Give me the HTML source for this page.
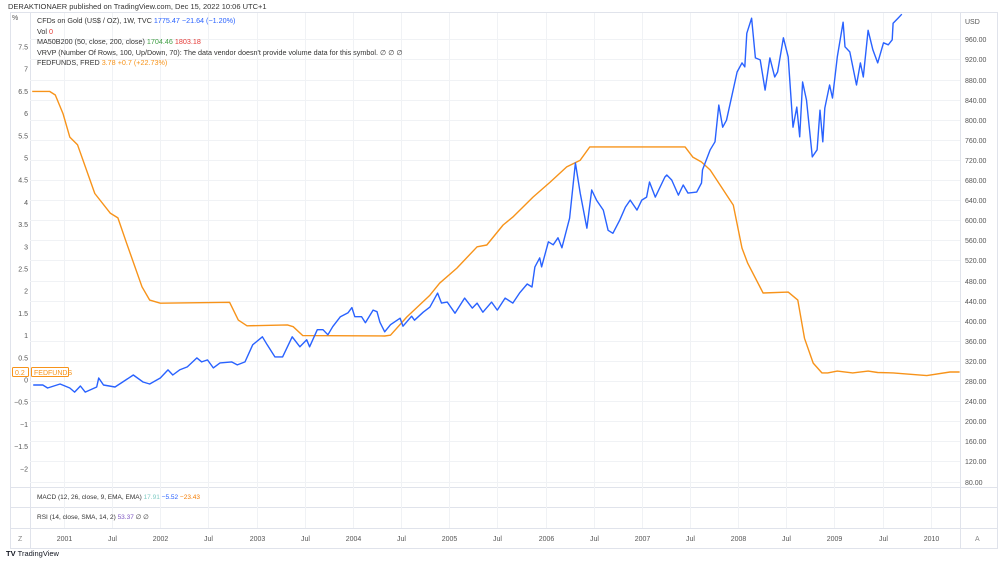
<!DOCTYPE html>
<html><head><meta charset="utf-8"><style>
body{margin:0;background:#fff;font-family:"Liberation Sans",sans-serif;}
svg text{font-family:"Liberation Sans",sans-serif;}
</style></head><body>
<svg id="c" width="1000" height="560" xmlns="http://www.w3.org/2000/svg">
<rect width="1000" height="560" fill="#fff"/>
<text x="8" y="9" font-size="7.5" fill="#333">DERAKTIONAER published on TradingView.com, Dec 15, 2022 10:06 UTC+1</text>
<rect x="10.5" y="12.5" width="987" height="536" fill="none" stroke="#e0e3eb"/>
<line x1="960.5" y1="12" x2="960.5" y2="548" stroke="#e0e3eb"/>
<line x1="10" y1="487.5" x2="998" y2="487.5" stroke="#e0e3eb"/>
<line x1="10" y1="507.5" x2="998" y2="507.5" stroke="#e0e3eb"/>
<line x1="10" y1="528.5" x2="998" y2="528.5" stroke="#e0e3eb"/>
<line x1="30.5" y1="12" x2="30.5" y2="548" stroke="#e0e3eb"/>
<g id="grid"></g>
<g id="axes" font-size="7" fill="#555"></g>
<defs><clipPath id="pc"><rect x="30" y="13" width="930" height="474"/></clipPath></defs>
<g clip-path="url(#pc)" id="series"></g>
<g font-size="7.2">
<text x="37" y="23" fill="#333">CFDs on Gold (US$ / OZ), 1W, TVC <tspan fill="#2962ff">1775.47</tspan> <tspan fill="#2962ff">−21.64 (−1.20%)</tspan></text>
<text x="37" y="34" fill="#333">Vol <tspan fill="#e53935">0</tspan></text>
<text x="37" y="44" fill="#333">MA50B200 (50, close, 200, close) <tspan fill="#43a047">1704.46</tspan> <tspan fill="#e53935">1803.18</tspan></text>
<text x="37" y="55" fill="#333">VRVP (Number Of Rows, 100, Up/Down, 70): The data vendor doesn't provide volume data for this symbol.  ∅  ∅  ∅</text>
<text x="37" y="65" fill="#333">FEDFUNDS, FRED <tspan fill="#f7931a">3.78</tspan> <tspan fill="#f7931a">+0.7 (+22.73%)</tspan></text>
</g>
<text x="37" y="499" font-size="6.5" fill="#333">MACD (12, 26, close, 9, EMA, EMA) <tspan fill="#80cbc4">17.91</tspan> <tspan fill="#2962ff">−5.52</tspan> <tspan fill="#f57c00">−23.43</tspan></text>
<text x="37" y="519" font-size="6.5" fill="#333">RSI (14, close, SMA, 14, 2) <tspan fill="#7e57c2">53.37</tspan>  ∅  ∅</text>
<text x="18" y="541" font-size="7" fill="#888">Z</text>
<text x="975" y="541" font-size="7" fill="#888">A</text>
<text x="12" y="20" font-size="7" fill="#555">%</text>
<text x="965" y="24" font-size="7" fill="#555">USD</text>
<g>
<rect x="12.5" y="367.5" width="16" height="9" fill="#fff" stroke="#f7931a" rx="1"/>
<text x="15" y="375" font-size="7" fill="#f7931a">0.2</text>
<rect x="31.5" y="367.5" width="37" height="9" fill="#fff" stroke="#f7931a" rx="1"/>
<text x="34" y="375" font-size="7" fill="#f7931a">FEDFUNDS</text>
</g>
<text x="6" y="556" font-size="7.5" fill="#131722" font-weight="bold">TV <tspan font-weight="normal">TradingView</tspan></text>
</svg>
<script>
const leftTicks=[7.5,7,6.5,6,5.5,5,4.5,4,3.5,3,2.5,2,1.5,1,0.5,0,-0.5,-1,-1.5,-2];
const rightTicks=[960,920,880,840,800,760,720,680,640,600,560,520,480,440,400,360,320,280,240,200,160,120,80];
const xTickLabels=["2001","Jul","2002","Jul","2003","Jul","2004","Jul","2005","Jul","2006","Jul","2007","Jul","2008","Jul","2009","Jul","2010"];
const xTickDates=[2001,2001.5,2002,2002.5,2003,2003.5,2004,2004.5,2005,2005.5,2006,2006.5,2007,2007.5,2008,2008.5,2009,2009.5,2010];
const fedDates=[2000.67,2000.85,2000.91,2000.99,2001.06,2001.14,2001.32,2001.48,2001.56,2001.65,2001.81,2001.89,2002.0,2002.41,2002.72,2002.81,2002.9,2003.32,2003.38,2003.48,2004.33,2004.39,2004.56,2004.8,2004.9,2005.08,2005.29,2005.39,2005.56,2005.66,2005.87,2006.05,2006.22,2006.36,2006.46,2006.98,2007.45,2007.53,2007.62,2007.71,2007.95,2008.04,2008.1,2008.26,2008.52,2008.62,2008.69,2008.78,2008.87,2008.93,2009.03,2009.19,2009.35,2009.45,2009.61,2009.96,2010.2,2010.3];
const fedValues=[6.5,6.5,6.42,6.0,5.47,5.3,4.2,3.76,3.65,3.08,2.1,1.8,1.73,1.74,1.75,1.35,1.22,1.24,1.2,1.0,0.99,1.01,1.42,1.91,2.18,2.52,3.0,3.04,3.49,3.67,4.12,4.46,4.8,4.95,5.25,5.25,5.25,5.02,4.91,4.73,3.94,2.97,2.63,1.96,1.98,1.8,0.94,0.38,0.16,0.16,0.2,0.16,0.2,0.17,0.16,0.1,0.18,0.18];
const goldDates=[2000.68,2000.78,2000.83,2000.96,2001.06,2001.11,2001.17,2001.22,2001.34,2001.36,2001.41,2001.53,2001.61,2001.72,2001.82,2001.89,2002.0,2002.08,2002.13,2002.2,2002.28,2002.38,2002.43,2002.49,2002.55,2002.62,2002.74,2002.8,2002.88,2002.96,2003.06,2003.11,2003.19,2003.27,2003.37,2003.45,2003.52,2003.55,2003.63,2003.69,2003.74,2003.79,2003.87,2003.95,2003.99,2004.02,2004.09,2004.13,2004.21,2004.25,2004.28,2004.33,2004.39,2004.49,2004.52,2004.61,2004.64,2004.73,2004.8,2004.88,2004.92,2004.98,2005.06,2005.16,2005.24,2005.29,2005.35,2005.44,2005.5,2005.58,2005.66,2005.73,2005.81,2005.86,2005.89,2005.94,2005.96,2006.03,2006.08,2006.13,2006.17,2006.25,2006.31,2006.36,2006.43,2006.48,2006.53,2006.6,2006.65,2006.7,2006.77,2006.83,2006.88,2006.95,2007.0,2007.05,2007.08,2007.14,2007.24,2007.26,2007.31,2007.38,2007.43,2007.48,2007.57,2007.62,2007.63,2007.71,2007.76,2007.8,2007.84,2007.88,2007.99,2008.04,2008.07,2008.09,2008.14,2008.18,2008.23,2008.28,2008.33,2008.38,2008.41,2008.47,2008.52,2008.57,2008.61,2008.64,2008.67,2008.71,2008.77,2008.82,2008.85,2008.88,2008.9,2008.95,2008.98,2009.03,2009.09,2009.11,2009.16,2009.23,2009.27,2009.3,2009.35,2009.4,2009.45,2009.51,2009.56,2009.6,2009.61,2009.66,2009.7];
const goldValues=[272,272,266,274,266,258,270,258,268,286,272,268,278,292,278,274,286,302,292,302,308,326,318,322,306,316,318,312,318,352,368,352,328,328,368,348,362,348,382,382,372,388,408,416,426,408,408,396,421,418,397,378,392,405,389,409,401,417,427,455,435,437,415,445,425,435,417,437,421,445,435,455,473,467,507,525,507,557,551,565,545,604,714,654,584,660,640,620,580,574,600,626,640,620,640,646,676,646,686,690,680,650,670,654,656,674,700,740,756,829,785,799,895,913,905,972,1002,923,919,859,923,885,895,963,925,785,825,766,875,839,726,740,819,756,823,869,843,925,994,945,935,869,913,885,978,939,913,953,949,959,992,1002,1010];

const NS="http://www.w3.org/2000/svg";
const xS=t=>64+(t-2001)*96.3;
const yL=v=>380-v*44.4;
const yR=v=>381-(v-280)*20.1/40;
function mk(tag,attrs,parent){const e=document.createElementNS(NS,tag);for(const k in attrs)e.setAttribute(k,attrs[k]);parent.appendChild(e);return e;}
const grid=document.getElementById('grid'),axes=document.getElementById('axes'),series=document.getElementById('series');
rightTicks.forEach(v=>{
  const y=Math.round(yR(v))+0.5;
  const g=mk('line',{x1:30,x2:960,y1:y,y2:y,stroke:'#f0f2f5'},grid);
  
  
  const t=mk('text',{x:965,y:y+2.5},axes);t.textContent=v.toFixed(2);
  
  
});
xTickDates.forEach((d,i)=>{
  const x=Math.round(xS(d))+0.5;
  const g=mk('line',{x1:x,x2:x,y1:13,y2:528,stroke:'#f0f2f5'},grid);
  
  
  const t=mk('text',{x:x,y:541,'text-anchor':'middle'},axes);t.textContent=xTickLabels[i];
  
  
});
leftTicks.forEach(v=>{
  const t=mk('text',{x:28,y:yL(v)+2.5,'text-anchor':'end'},axes);t.textContent=String(v).replace('-','−');
  
  
});
const fp=mk('path',{d:fedDates.map((d,i)=>(i?'L':'M')+xS(d).toFixed(1)+','+yL(fedValues[i]).toFixed(1)).join(''),fill:'none',stroke:'#f7931a','stroke-width':1.4,'stroke-linejoin':'round'},series);


const gp=mk('path',{d:goldDates.map((d,i)=>(i?'L':'M')+xS(d).toFixed(1)+','+yR(goldValues[i]).toFixed(1)).join(''),fill:'none',stroke:'#2962ff','stroke-width':1.4,'stroke-linejoin':'round'},series);


</script>
</body></html>
